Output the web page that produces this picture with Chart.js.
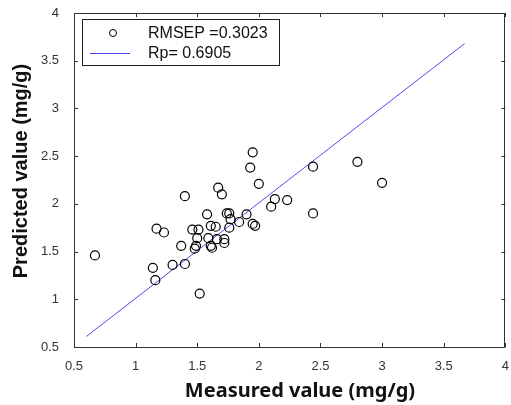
<!DOCTYPE html>
<html lang="en">
<head>
    <meta charset="UTF-8">
    <title>Predicted vs measured</title>
    <script src="https://cdn.jsdelivr.net/npm/chart.js"></script>
    <style>
        html, body { margin: 0; padding: 0; background: #fff; overflow: hidden; }
        .chart-container { width: 511px; height: 405px; }
    </style>
</head>
<body>
    <div class="chart-container">
        <canvas id="scatterChart" width="511" height="405"></canvas>
    </div>

    <script>
        // prediction set: measured vs predicted content
        const measured = [
            0.67, 1.14, 1.16, 1.17, 1.23, 1.30, 1.37, 1.40, 1.40, 1.46,
            1.51, 1.50, 1.49, 1.48, 1.52, 1.58, 1.61, 1.65, 1.59, 1.61,
            1.62, 1.66, 1.72, 1.72, 1.67, 1.70, 1.74, 1.76, 1.77, 1.76,
            1.84, 1.90, 1.95, 1.93, 2.00, 1.95, 1.97, 2.10, 2.13, 2.23,
            2.44, 2.44, 2.80, 3.00
        ];
        const predicted = [
            1.46, 1.33, 1.20, 1.74, 1.70, 1.36, 1.56, 2.08, 1.37, 1.73,
            1.73, 1.64, 1.56, 1.53, 1.06, 1.89, 1.77, 1.76, 1.64, 1.56,
            1.54, 1.63, 1.63, 1.59, 2.17, 2.10, 1.90, 1.90, 1.84, 1.75,
            1.81, 1.89, 2.54, 2.38, 2.21, 1.79, 1.77, 1.97, 2.05, 2.04,
            2.39, 1.90, 2.44, 2.22
        ];
        // regression line end points
        const fitX = [0.60, 3.67];
        const fitY = [0.61, 3.68];

        const axisTicks = [0.5, 1, 1.5, 2, 2.5, 3, 3.5, 4];
        const legendLabels = ['RMSEP =0.3023', 'Rp= 0.6905'];
        const xTitle = 'Measured value (mg/g)';
        const yTitle = 'Predicted value (mg/g)';

        const lineColor = '#4c4cf0';

        // inside tick marks on all four sides, box outline, legend and axis titles
        const matlabFrame = {
            id: 'matlabFrame',
            afterDraw(chart) {
                const ctx = chart.ctx;
                const a = chart.chartArea;
                const xs = chart.scales.x, ys = chart.scales.y;
                ctx.save();
                ctx.strokeStyle = '#333';
                ctx.lineWidth = 1;
                ctx.beginPath();
                xs.ticks.forEach(t => {
                    const px = Math.round(xs.getPixelForValue(t.value)) + 0.5;
                    ctx.moveTo(px, a.bottom); ctx.lineTo(px, a.bottom - 4);
                    ctx.moveTo(px, a.top); ctx.lineTo(px, a.top + 4);
                });
                ys.ticks.forEach(t => {
                    const py = Math.round(ys.getPixelForValue(t.value)) + 0.5;
                    ctx.moveTo(a.left, py); ctx.lineTo(a.left + 4, py);
                    ctx.moveTo(a.right, py); ctx.lineTo(a.right - 4, py);
                });
                ctx.stroke();
                ctx.strokeRect(Math.round(a.left) + 0.5, Math.round(a.top) + 0.5,
                    Math.round(a.right - a.left) - 1, Math.round(a.bottom - a.top));

                // legend box
                const lx = 82.5, ly = 19.5, lw = 197, lh = 46;
                ctx.fillStyle = '#fff';
                ctx.fillRect(lx, ly, lw, lh);
                ctx.strokeStyle = '#222';
                ctx.strokeRect(lx, ly, lw, lh);
                ctx.beginPath();
                ctx.arc(113, 33, 3.5, 0, Math.PI * 2);
                ctx.strokeStyle = '#000';
                ctx.stroke();
                ctx.beginPath();
                ctx.moveTo(90, 53.5); ctx.lineTo(130, 53.5);
                ctx.strokeStyle = lineColor;
                ctx.stroke();
                ctx.fillStyle = '#111';
                ctx.font = '16px "Liberation Sans", Arial, sans-serif';
                ctx.textBaseline = 'middle';
                ctx.textAlign = 'left';
                ctx.fillText(legendLabels[0], 148, 34);
                ctx.fillText(legendLabels[1], 148, 54);

                // axis titles
                ctx.fillStyle = '#111';
                ctx.font = 'bold 20px "Noto Sans", sans-serif';
                ctx.textAlign = 'center';
                ctx.fillText(xTitle, 300, 391);
                ctx.translate(21, 171);
                ctx.rotate(-Math.PI / 2);
                ctx.font = 'bold 20px "Liberation Sans", Arial, sans-serif';
                ctx.fillText(yTitle, 0, 0);
                ctx.restore();
            }
        };

        const tickFont = { family: '"Liberation Sans", Arial, sans-serif', size: 13 };
        const tickText = v => String(v);

        new Chart(document.getElementById('scatterChart'), {
            type: 'scatter',
            data: {
                datasets: [{
                    label: legendLabels[0],
                    data: measured.map((v, i) => ({ x: v, y: predicted[i] })),
                    pointStyle: 'circle',
                    pointRadius: 4.5,
                    pointBorderWidth: 1.2,
                    borderColor: '#000',
                    backgroundColor: 'rgba(0,0,0,0)'
                }, {
                    label: legendLabels[1],
                    type: 'line',
                    data: fitX.map((v, i) => ({ x: v, y: fitY[i] })),
                    borderColor: lineColor,
                    borderWidth: 1,
                    pointRadius: 0,
                    fill: false
                }]
            },
            options: {
                responsive: false,
                animation: false,
                layout: { padding: { top: 13, right: 1, left: 0, bottom: 0 } },
                plugins: {
                    legend: { display: false },
                    tooltip: { enabled: false }
                },
                scales: {
                    x: {
                        type: 'linear',
                        min: 0.5, max: 4,
                        afterBuildTicks: s => { s.ticks = axisTicks.map(v => ({ value: v })); },
                        afterFit: s => { s.height = 58; s.paddingLeft = 0; s.paddingRight = 0; },
                        grid: { display: false },
                        border: { display: false },
                        ticks: { font: tickFont, color: '#333', padding: 4, maxRotation: 0, autoSkip: false, callback: tickText }
                    },
                    y: {
                        type: 'linear',
                        min: 0.5, max: 4,
                        afterBuildTicks: s => { s.ticks = axisTicks.map(v => ({ value: v })); },
                        afterFit: s => { s.width = 74; s.paddingTop = 0; s.paddingBottom = 0; },
                        grid: { display: false },
                        border: { display: false },
                        ticks: { font: tickFont, color: '#333', padding: 7, autoSkip: false, callback: tickText }
                    }
                }
            },
            plugins: [matlabFrame]
        });
    </script>
</body>
</html>
